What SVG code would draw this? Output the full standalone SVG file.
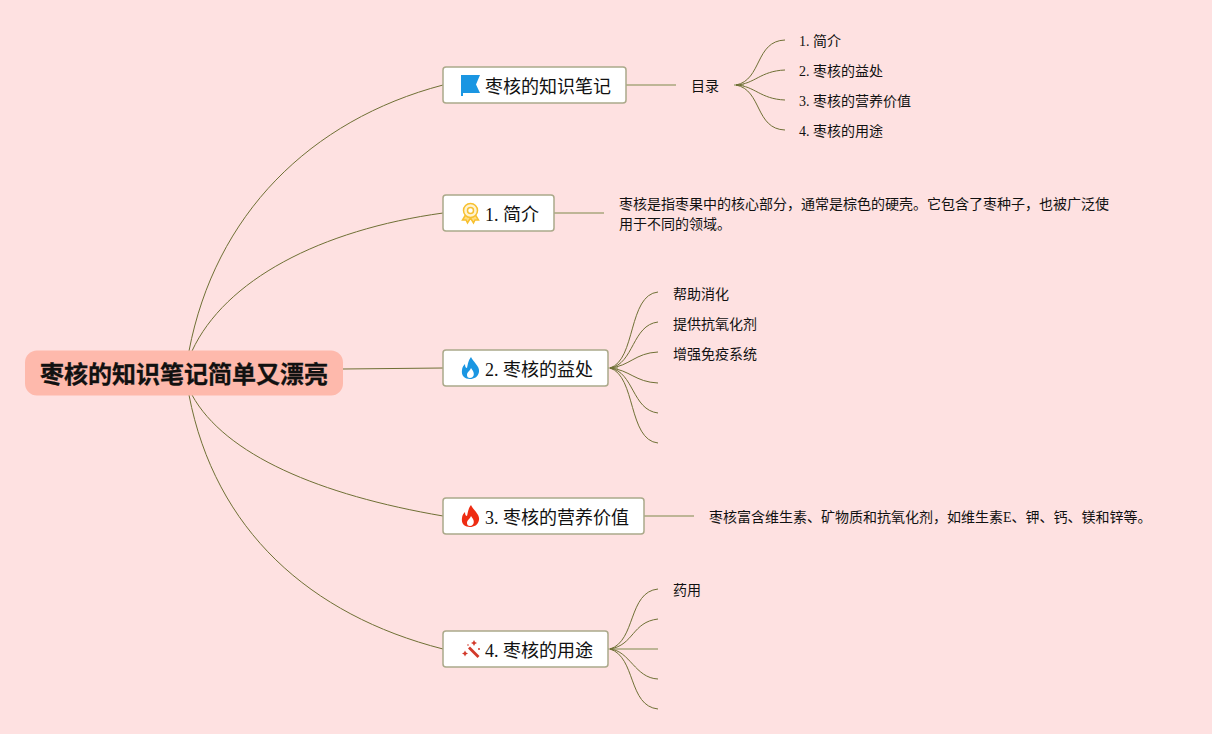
<svg xmlns="http://www.w3.org/2000/svg" width="1212" height="734" viewBox="0 0 1212 734">
<style>
text{font-family:"Liberation Serif","Noto Sans CJK SC",serif;fill:#111}
.t{font-size:18px}
.s{font-size:14px}
.b{fill:#fff;stroke:#aba98a;stroke-width:1.5}
.c{fill:none;stroke:#6f7035;stroke-width:1}
.h{fill:none;stroke:#a8a67c;stroke-width:1.5}
</style>
<rect width="1212" height="734" fill="#fee1e1"/>
<g id="connectors">
<path class="c" d="M189 351C215 215 310 120 443 85"/>
<path class="c" d="M192 351C225 280 320 230 443 213"/>
<path class="c" d="M343 369L443 368"/>
<path class="c" d="M192 395C225 455 320 495 443 516"/>
<path class="c" d="M189 395C215 530 310 615 443 649"/>
<path class="h" d="M626 85H676"/>
<path class="h" d="M554 213H604"/>
<path class="h" d="M644 516H694"/>
<path class="h" d="M734 85H744"/>
<path class="h" d="M608 368H618"/>
<path class="h" d="M608 649H658"/>
<path class="c" d="M736 85C762 80 755 41 785 40"/>
<path class="c" d="M736 85C755 84 760 71 785 70"/>
<path class="c" d="M736 85C755 86 760 99 785 100"/>
<path class="c" d="M736 85C762 90 755 129 785 130"/>
<path class="c" d="M610 368C636 360 628 295 658 292"/>
<path class="c" d="M610 368C634 364 632 325 658 322"/>
<path class="c" d="M610 368C630 366 635 353 658 352"/>
<path class="c" d="M610 368C630 370 635 382 658 383"/>
<path class="c" d="M610 368C634 372 632 410 658 413"/>
<path class="c" d="M610 368C636 376 628 440 658 443"/>
<path class="c" d="M610 649C636 641 628 592 658 589"/>
<path class="c" d="M610 649C634 645 632 622 658 619"/>
<path class="c" d="M610 649C630 651 635 678 658 679"/>
<path class="c" d="M610 649C636 657 628 706 658 709"/>
</g>
<g id="root"><rect x="25" y="350.500" width="318" height="45" rx="12" fill="#feb9ac"/><text x="40" y="383" font-size="24" font-weight="700" stroke="#111" stroke-width="0.300" style="font-family:'Noto Sans CJK SC',sans-serif">枣核的知识笔记简单又漂亮</text></g>
<g id="n0"><rect class="b" x="443" y="67" width="183" height="36" rx="3"/><path d="M461 75H480L476 84.500L480 93H463V96H461Z" fill="#1a96e2"/><text class="t" x="485" y="92.500">枣核的知识笔记</text></g>
<g id="n1"><rect class="b" x="443" y="195" width="111" height="36" rx="3"/><g fill="#ffdc80" stroke="#f7c02f" stroke-width="1.500"><path d="M465.500 215L462.500 220L466 220L467.500 223L470.500 218L473.500 223L475 220L478.500 220L475.500 215Z"/><circle cx="470.500" cy="210.500" r="7" fill="#fff3d0"/><circle cx="470.500" cy="210.500" r="3" fill="#fff"/></g><text class="t" x="485" y="220.500">1. 简介</text></g>
<g id="n2"><rect class="b" x="443" y="350" width="165" height="36" rx="3"/><path d="M471 357C473 362 480 366 479 372C478 377 474 379 470 379C465 379 461 376 462 370C462 367 464 365 465 364C465 367 466 368 467 368C468 364 468 361 471 357ZM470 378C473 378 475 375 473 371L471 368C470 371 467 372 467 375C467 377 468 378 470 378Z" fill="#1a96e2" fill-rule="evenodd"/><text class="t" x="485" y="375.500">2. 枣核的益处</text></g>
<g id="n3"><rect class="b" x="443" y="498" width="201" height="36" rx="3"/><path d="M471 505C473 510 480 514 479 520C478 525 474 527 470 527C465 527 461 524 462 518C462 515 464 513 465 512C465 515 466 516 467 516C468 512 468 509 471 505ZM470 526C473 526 475 523 473 519L471 516C470 519 467 520 467 523C467 525 468 526 470 526Z" fill="#ee2c12" fill-rule="evenodd"/><text class="t" x="485" y="523.500">3. 枣核的营养价值</text></g>
<g id="n4"><rect class="b" x="443" y="631" width="165" height="36" rx="3"/><g fill="#d2392a"><path d="M468 648.500L470 646.500L479.500 656L477.500 658Z"/><path d="M474 640L475 642L477 643L475 644L474 646L473 644L471 643L473 642Z"/><path d="M465 650.500L466 652.500L468 653.500L466 654.500L465 656.500L464 654.500L462 653.500L464 652.500Z"/><circle cx="479" cy="649" r="1"/><circle cx="468" cy="645" r="0.800"/></g><text class="t" x="485" y="656.500">4. 枣核的用途</text></g>
<g id="l0"><text class="s" x="691" y="91">目录</text></g>
<g id="l01"><text class="s" x="799" y="46">1. 简介</text></g>
<g id="l02"><text class="s" x="799" y="76">2. 枣核的益处</text></g>
<g id="l03"><text class="s" x="799" y="106">3. 枣核的营养价值</text></g>
<g id="l04"><text class="s" x="799" y="136">4. 枣核的用途</text></g>
<g id="l1"><text class="s" x="619" y="209">枣核是指枣果中的核心部分，通常是棕色的硬壳。它包含了枣种子，也被广泛使</text><text class="s" x="619" y="229">用于不同的领域。</text></g>
<g id="l21"><text class="s" x="673" y="299">帮助消化</text></g>
<g id="l22"><text class="s" x="673" y="329">提供抗氧化剂</text></g>
<g id="l23"><text class="s" x="673" y="359">增强免疫系统</text></g>
<g id="l3"><text class="s" x="709" y="522">枣核富含维生素、矿物质和抗氧化剂，如维生素E、钾、钙、镁和锌等。</text></g>
<g id="l41"><text class="s" x="673" y="595">药用</text></g>
</svg>
